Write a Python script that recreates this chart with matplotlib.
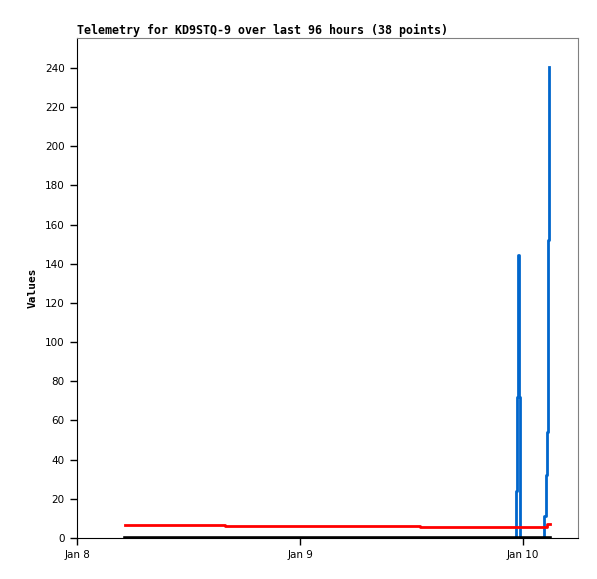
import datetime as dt
import matplotlib
matplotlib.use('Agg')
import matplotlib.pyplot as plt

# hours since Jan 8 00:00
start = dt.datetime(2024, 1, 8)

red_hours = [5.2, 15.9, 36.9, 50.6, 50.9]
red_vals = [6.6, 6.1, 5.6, 6.9, 6.9]

black_hours = [5.2, 50.9]
black_vals = [0, 0]

blue_hours = [5.2, 47.19, 47.30, 47.41, 47.57, 47.65,
              50.29, 50.42, 50.56, 50.67, 50.80]
blue_vals = [0, 24, 72, 144.5, 72, 0,
             11, 32, 54, 152, 240.5]

x_ticks = ['Jan 8', 'Jan 9', 'Jan 10']


def to_dates(hours):
    return [start + dt.timedelta(hours=h) for h in hours]


fig = plt.figure(figsize=(5.97, 5.79), dpi=100)
ax = fig.add_axes([77 / 597, 1 - 538 / 579, 501 / 597, 500 / 579])

ax.plot(to_dates(blue_hours), blue_vals, drawstyle='steps-post',
        color='#0066cc', linewidth=2.0)
ax.plot(to_dates(red_hours), red_vals, drawstyle='steps-post',
        color='#ff0000', linewidth=2.0)
ax.plot(to_dates(black_hours), black_vals, drawstyle='steps-post',
        color='#000000', linewidth=2.6)

ax.set_xlim(start, start + dt.timedelta(hours=53.9))
ax.set_ylim(0, 255.3)
ax.set_yticks(range(0, 241, 20))
ax.set_xticks(to_dates([0, 24, 48]))
ax.set_xticklabels(x_ticks)

ax.tick_params(direction='out', length=5, width=1, colors='black',
               labelsize=7.5, pad=4)
for lab in ax.get_xticklabels() + ax.get_yticklabels():
    lab.set_family('DejaVu Sans')

for side in ['top', 'right']:
    ax.spines[side].set_color('#808080')
for side in ['left', 'bottom']:
    ax.spines[side].set_color('black')

ax.set_ylabel('Values', family='DejaVu Sans Mono', fontweight='bold',
              fontsize=8, labelpad=5)
ax.set_title('Telemetry for KD9STQ-9 over last 96 hours (38 points)',
             loc='left', family='DejaVu Sans Mono', fontweight='bold',
             fontsize=8.4, pad=3)

fig.savefig('out.png', dpi=100)
